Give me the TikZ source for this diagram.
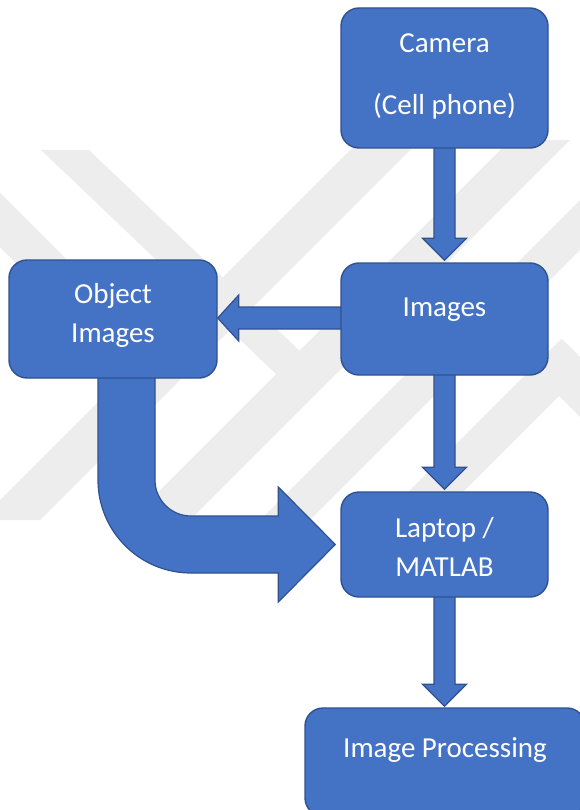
\documentclass[tikz,border=0pt]{standalone}
\usepackage{fontspec}
\setmainfont{Carlito}
\usetikzlibrary{calc}
\definecolor{boxfill}{HTML}{4472C4}
\definecolor{boxline}{HTML}{2F528F}
\definecolor{wmark}{HTML}{EDEDED}
\pgfdeclarelayer{wm}
\pgfdeclarelayer{arrows}
\pgfsetlayers{wm,arrows,main}
% vertical block arrow: #1 = start on the upper box, #2 = tip
\newcommand\vblock[2]{%
  \coordinate (vb-s) at (#1);
  \coordinate (vb-t) at (#2);
  \coordinate (vb-h) at ($(vb-s |- vb-t)+(0,-22)$);
  \path[blockarrow] ($(vb-s)+(-10.5,-3)$) -- ($(vb-h)+(-10.5,0)$) -- ($(vb-h)+(-22,0)$)
    -- (vb-s |- vb-t) -- ($(vb-h)+(22,0)$) -- ($(vb-h)+(10.5,0)$)
    -- ($(vb-s)+(10.5,-3)$) -- cycle;}
\begin{document}
\begin{tikzpicture}[x=1pt,y=-1pt,
  box/.style={draw=boxline,fill=boxfill,line width=1.4pt,rounded corners=18pt,inner sep=0pt},
  blockarrow/.style={draw=boxline,fill=boxfill,line width=1.2pt,line join=miter},
  txt/.style={text=white,font=\fontsize{29}{39}\selectfont,align=center,inner sep=0pt},
  wm/.style={fill=wmark}]
\useasboundingbox (0,0) rectangle (579,810);

% boxes
\node[box,minimum width=207pt,minimum height=140pt] (cam) at (444.5,78) {};
\node[box,minimum width=207pt,minimum height=112pt] (img) at (444.5,319) {};
\node[box,minimum width=208pt,minimum height=118pt] (obj) at (113,319) {};
\node[box,minimum width=207pt,minimum height=105pt] (lap) at (444.5,544.5) {};
\node[box,minimum width=280pt,minimum height=108pt] (ip) at (445,762) {};

% labels
\node[txt] (camT) at ($(cam.center)+(0,-2)$) {Camera\\[23pt](Cell phone)};
\node[txt] (imgT) at ($(img.center)+(0,-9)$) {Images};
\node[txt] (objT) at ($(obj.center)+(0,-3.5)$) {Object\\Images};
\node[txt] (lapT) at ($(lap.center)+(0,2)$) {Laptop /\\MATLAB};
\node[txt] (ipT) at ($(ip.center)+(0,-12)$) {Image Processing};

% faint background emblem
\begin{pgfonlayer}{wm}
  \fill[wm] (41,150) -- (89,150) -- (325,375) -- (277,375) -- cycle;
  \fill[wm] (0,193) -- (0,247) -- (130,377) -- (130,323) -- cycle;
  \fill[wm] (-20,520) -- (40,520) -- (420,140) -- (360,140) -- cycle;
  \fill[wm] (120,530) -- (180,530) -- (570,140) -- (510,140) -- cycle;
  \fill[wm] (240,540) -- (290,540) -- (680,150) -- (630,150) -- cycle;
  \fill[wm] (345,555) -- (561.5,338.5) -- (600,377) -- (600,437) -- (559,396) -- (400,555) -- cycle;
\end{pgfonlayer}

% connectors
\begin{pgfonlayer}{arrows}
  \vblock{cam.south}{$(img.north)+(0,-2)$}
  \vblock{img.south}{$(lap.north)+(0,-2)$}
  \vblock{lap.south}{$(ip.north)+(0,-1)$}
  % Images -> Object Images
  \coordinate (hs) at ($(img.west)+(3,-1)$);
  \coordinate (ht) at (obj.east |- hs);
  \path[blockarrow] ($(hs)+(0,-11)$) -- ($(ht)+(21,-11)$) -- ($(ht)+(21,-23)$) -- (ht)
    -- ($(ht)+(21,23)$) -- ($(ht)+(21,11)$) -- ($(hs)+(0,11)$) -- cycle;
  % Object Images -> Laptop / MATLAB (bent arrow)
  \coordinate (bA) at ($(obj.south)+(-15,-3)$);
  \coordinate (bB) at ($(obj.south)+(42,-3)$);
  \coordinate (bT) at ($(lap.west)+(-5,0)$);
  \path[blockarrow] (bA) -- ($(bA |- bT)+(0,-64.5)$) arc[start angle=180,end angle=90,radius=93]
    -- ($(bT)+(-57,28.5)$) -- ($(bT)+(-57,57.5)$) -- (bT) -- ($(bT)+(-57,-57.5)$)
    -- ($(bT)+(-57,-28.5)$) -- ($(bB |- bT)+(36,-28.5)$) arc[start angle=90,end angle=180,radius=36]
    -- (bB) -- cycle;
\end{pgfonlayer}
\end{tikzpicture}
\end{document}
